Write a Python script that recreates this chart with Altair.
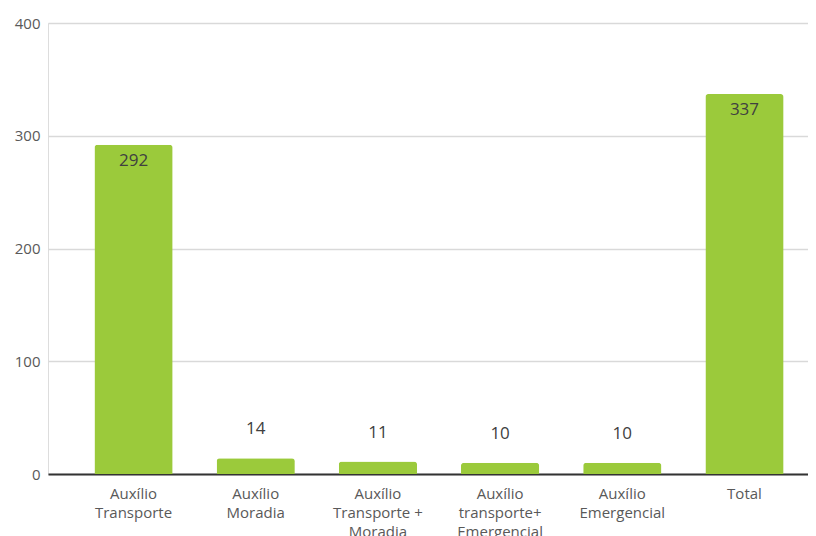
import altair as alt
import pandas as pd

categories = ["Auxílio|Transporte", "Auxílio|Moradia", "Auxílio|Transporte +|Moradia",
              "Auxílio|transporte+|Emergencial", "Auxílio|Emergencial", "Total"]
values = [292, 14, 11, 10, 10, 337]
y_ticks = [0, 100, 200, 300, 400]

df = pd.DataFrame({"cat": categories, "value": values})

FONT = "Open Sans"
GREEN = "#9BCA3B"

x = alt.X("cat:N", sort=categories,
          scale=alt.Scale(paddingInner=0.36, paddingOuter=0.38, range=[0, 782]),
          axis=alt.Axis(title=None, labelAngle=0, labelExpr="split(datum.label, '|')",
                        labelFont=FONT, labelFontSize=15, labelColor="#595959",
                        labelLineHeight=19, labelPadding=12, labelBaseline="top",
                        ticks=False, domainColor="#333333", domainWidth=2, grid=False))
y = alt.Y("value:Q", scale=alt.Scale(domain=[0, 400], nice=False),
          axis=alt.Axis(title=None, values=y_ticks, labelFont=FONT, labelFontSize=15,
                        labelColor="#595959", labelPadding=8, ticks=False, domain=False,
                        gridColor="#d9d9d9", gridWidth=1.5))

base = alt.Chart(df)
bars = base.mark_bar(color=GREEN, cornerRadiusTopLeft=3, cornerRadiusTopRight=3).encode(x=x, y=y)
inside = base.transform_filter("datum.value > 100").mark_text(
    dy=16, font=FONT, fontSize=17, color="#404040", baseline="middle").encode(
    x=alt.X("cat:N", sort=categories), y="value:Q", text="value:Q")
outside = base.transform_filter("datum.value <= 100").mark_text(
    dy=-29, font=FONT, fontSize=17, color="#404040", baseline="middle").encode(
    x=alt.X("cat:N", sort=categories), y="value:Q", text="value:Q")

chart = alt.layer(bars, inside, outside).properties(
    width=760, height=451,
    autosize=alt.AutoSizeParams(type="none"),
    padding={"left": 40, "top": 15, "right": 0, "bottom": 80},
).configure_view(stroke=None).configure(background="white")

chart.save("out.html", embed_options={"renderer": "svg", "actions": False})
